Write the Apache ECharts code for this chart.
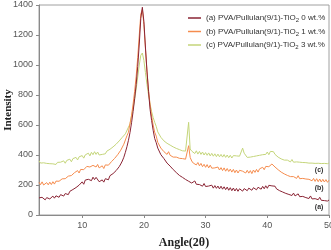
<!DOCTYPE html>
<html><head><meta charset="utf-8">
<script src="https://cdn.jsdelivr.net/npm/echarts@6/dist/echarts.min.js"></script>
<style>html,body{margin:0;padding:0;background:#fff}#c{width:331px;height:250px}</style>
</head><body><div id="c"></div>
<script>
// 2θ sampling grid: 3° to 50° in 0.25° steps (4 samples per degree, one group per degree below)
const angleStart = 3, angleStep = 0.25;
const xTicks = [10, 20, 30, 40, 50];
const yTicks = [0, 200, 400, 600, 800, 1000, 1200, 1400];
const seriesNames = [
  '(a) PVA/Pullulan(9/1)-TiO2 0 wt.%',
  '(b) PVA/Pullulan(9/1)-TiO2 1 wt.%',
  '(c) PVA/Pullulan(9/1)-TiO2 3 wt.%'
];
const curveA = [
 114,103,118,106, 101,116,121,107, 119,126,112,128, 131,118,136,140, 126,143,149,136,
 158,150,170,157, 183,174,199,192, 221,205,233,226, 238,250,229,252, 236,251,238,222,
 213,234,219,242, 249,235,262,256, 276,286,296,309, 322,340,360,385, 418,455,498,550,
 615,690,775,870, 990,1140,1310,1385, 1290,1120,960,825, 705,630,565,510, 482,446,436,402,
 401,376,377,346, 346,326,324,303, 301,283,284,264, 268,251,255,237, 244,225,232,213,
 221,227,205,212, 203,207,192,210, 190,198,193,182, 199,179,196,178, 193,174,192,172,
 188,169,186,165, 182,162,180,160, 177,158,175,178, 159,176,170,162, 179,172,165,182,
 175,168,185,178, 172,191,175,195, 178,198,189,194, 187,192,174,180, 162,170,153,161,
 144,152,137,145, 130,146,127,136, 141,122,131,124, 128,116,125,110, 127,107,116,109,
 114,102,118,98, 107,96,104,93, 100
];
const curveB = [
 218,202,221,200, 198,216,201,219, 203,222,206,226, 218,225,224,241, 235,242,242,259,
 256,263,264,282, 275,296,280,304, 296,302,304,324, 316,320,324,331, 340,320,337,314,
 308,328,310,334, 326,332,335,356, 356,377,377,402, 404,432,439,472, 484,528,552,611,
 665,740,825,925, 1050,1200,1340,1370, 1270,1110,955,835, 735,660,600,552, 526,484,476,446,
 446,422,426,404, 422,398,404,386, 392,386,386,378, 382,376,376,372, 366,462,384,360,
 346,352,334,350, 328,344,322,338, 318,336,314,332, 312,318,314,314, 320,300,316,296,
 314,292,310,290, 306,286,304,282, 300,280,298,302, 292,300,280,298, 279,296,276,300,
 284,304,286,308, 300,318,302,324, 316,322,322,340, 344,320,324,302, 306,286,292,274,
 282,264,272,256, 264,256,260,244, 262,242,250,244, 248,240,244,238, 246,228,244,224,
 242,222,240,220, 238,220,236,218, 232
];
const curveC = [
 362,346,354,348, 352,344,350,342, 348,341,349,337, 351,344,352,346, 361,345,364,356,
 372,355,376,368, 384,367,388,380, 396,379,401,394, 412,394,418,402, 422,404,420,400,
 408,404,410,408, 426,420,438,434, 454,450,472,470, 494,494,518,516, 541,550,586,606,
 660,710,770,840, 920,1000,1065,1080, 1030,950,870,800, 740,690,650,618, 591,554,546,518,
 516,494,498,478, 486,466,472,454, 462,444,452,436, 444,428,436,426, 436,618,440,426,
 426,410,428,406, 424,404,420,400, 416,398,414,394, 411,392,408,389, 406,388,404,386,
 403,384,400,382, 398,380,396,390, 394,388,392,404, 446,412,400,384, 392,386,394,390,
 398,394,402,398, 406,402,410,404, 420,402,424,416, 422,404,406,386, 392,374,382,366,
 374,366,370,354, 370,352,361,354, 360,352,357,350, 356,349,354,346, 353,346,351,344,
 352,345,350,343, 351,344,349,342, 347
];
const curveTags = ['(a)', '(b)', '(c)'];
const tagAnchors = [[48.4, 55], [48.4, 182], [48.4, 298]];
const colors = ['#8a2434', '#f58c4e', '#c4d57a'];

function pairs(vals) { return vals.map((v, i) => [angleStart + i * angleStep, v]); }
const curves = [curveA, curveB, curveC];
const sans = 'Liberation Sans, Arial';

const chart = echarts.init(document.getElementById('c'), null, {renderer: 'canvas'});
chart.setOption({
  animation: false,
  grid: {left: 39, right: 2, top: 5, bottom: 35, show: true, borderColor: '#a0a0a0', borderWidth: 1,
         containLabel: false, outerBoundsMode: 'none'},
  legend: {
    orient: 'vertical', left: 183, top: 9, itemGap: 4,
    itemWidth: 13, itemHeight: 1.5, icon: 'rect',
    data: seriesNames.map((n, i) => ({name: n, itemStyle: {color: colors[i]}})),
    formatter: function (n) {
      const p = n.split('TiO2');
      return '{t|' + p[0] + 'TiO}{s|2}{t|' + p[1] + '}';
    },
    textStyle: {
      rich: {
        t: {fontFamily: sans, fontSize: 8, color: '#333', height: 8},
        s: {fontFamily: sans, fontSize: 6, color: '#333', padding: [5, 0, 0, 0]}
      }
    }
  },
  xAxis: {
    type: 'value', min: 3, max: 50,
    name: 'Angle(2θ)', nameLocation: 'middle', nameGap: 22, nameMoveOverlap: false,
    nameTextStyle: {fontFamily: 'Liberation Serif, Times New Roman', fontWeight: 'bold', fontSize: 12, color: '#222'},
    axisLine: {lineStyle: {color: '#8a8a8a'}},
    axisTick: {show: true, length: 3, customValues: xTicks, lineStyle: {color: '#8a8a8a'}},
    axisLabel: {customValues: xTicks, margin: 6, alignMaxLabel: 'center', fontFamily: sans, fontSize: 9, color: '#555'},
    splitLine: {show: false}
  },
  yAxis: {
    type: 'value', min: 0, max: 1400,
    name: 'Intensity', nameLocation: 'middle', nameGap: 25, nameRotate: 90, nameMoveOverlap: false,
    nameTextStyle: {fontFamily: 'Liberation Serif, Times New Roman', fontWeight: 'bold', fontSize: 11, color: '#222'},
    axisLine: {show: true, lineStyle: {color: '#8a8a8a'}},
    axisTick: {show: true, length: 3, customValues: yTicks, lineStyle: {color: '#8a8a8a'}},
    axisLabel: {customValues: yTicks, formatter: v => String(v), margin: 6, fontFamily: sans, fontSize: 9, color: '#555'},
    splitLine: {show: false}
  },
  series: curves.map((c, i) => ({
    name: seriesNames[i], type: 'line', data: pairs(c),
    showSymbol: false, symbol: 'none', z: 3 - i,
    lineStyle: {color: colors[i], width: 1},
    itemStyle: {color: colors[i]},
    markPoint: {
      symbol: 'circle', symbolSize: 0,
      data: [{coord: tagAnchors[i], value: curveTags[i]}],
      label: {show: true, formatter: curveTags[i], position: 'inside', fontFamily: sans, fontSize: 7, fontWeight: 'bold', color: '#333'}
    }
  }))
});
</script></body></html>
